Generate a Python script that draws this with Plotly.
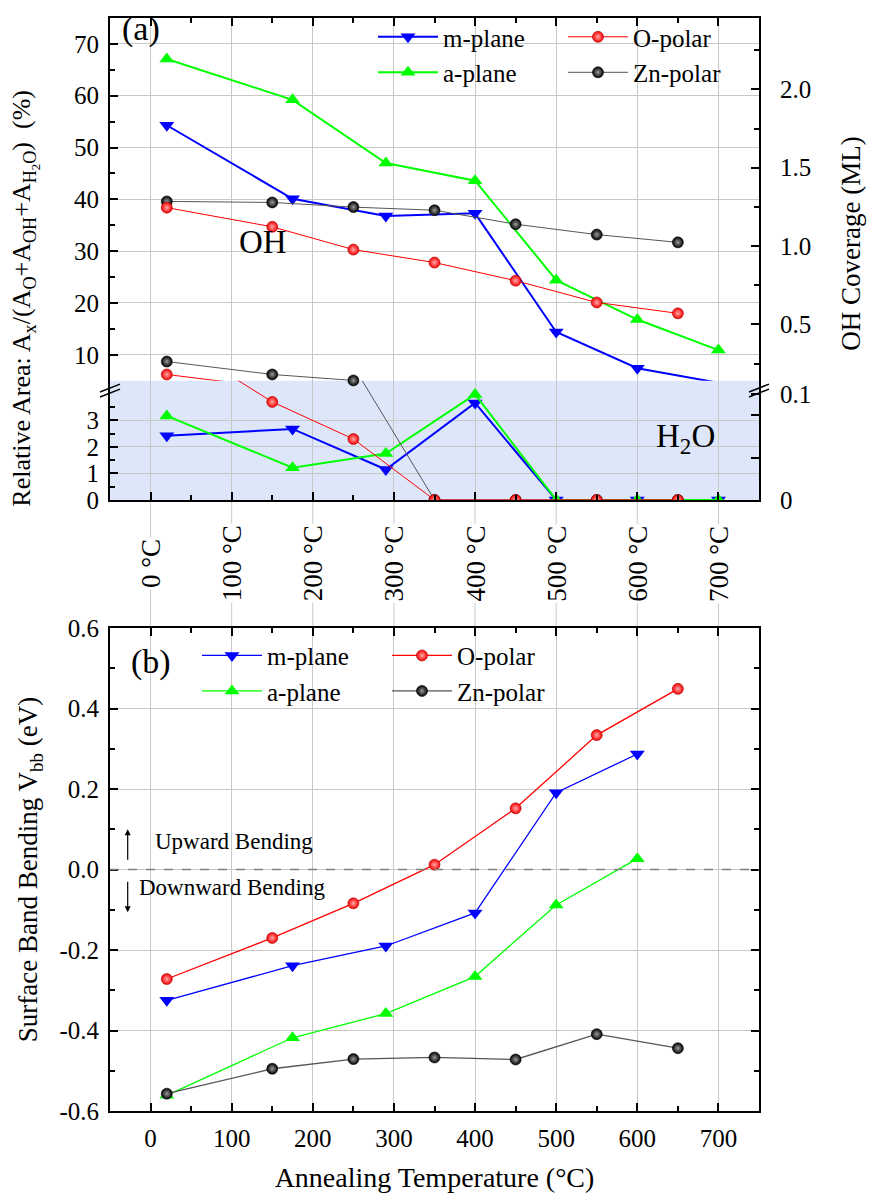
import plotly.graph_objects as go

# ---------------- data ----------------
# panel (a): relative area (%) of the OH and H2O components
temp_plane = [20, 175, 290, 400, 500, 600, 700]      # m-plane, a-plane (°C)
temp_polar = [20, 150, 250, 350, 450, 550, 650]      # O-polar, Zn-polar (°C)

oh_m = [54.3, 40.1, 36.8, 37.3, 14.4, 7.4, 4.6]
oh_a = [67.1, 59.2, 47.0, 43.6, 24.4, 16.8, 10.9]
oh_o = [38.4, 34.7, 30.3, 27.8, 24.3, 20.1, 18.0]
oh_zn = [39.6, 39.4, 38.5, 37.9, 35.2, 33.2, 31.7]

h2o_m = [2.42, 2.68, 1.15, 3.66, 0, 0, 0]
h2o_a = [3.17, 1.22, 1.75, 3.98, 0, 0, 0]
h2o_o = [6.2, 3.7, 2.3, 0, 0, 0, 0]
h2o_zn = [8.7, 6.2, 5.05, 0, 0, 0, 0]

# panel (b): surface band bending (eV)
temp_plane_b = [20, 175, 290, 400, 500, 600]
temp_polar_b = [20, 150, 250, 350, 450, 550, 650]
vbb_m = [-0.325, -0.239, -0.190, -0.108, 0.191, 0.287]
vbb_a = [-0.561, -0.418, -0.358, -0.266, -0.088, 0.027]
vbb_o = [-0.272, -0.170, -0.084, 0.012, 0.152, 0.334, 0.449]
vbb_zn = [-0.557, -0.495, -0.471, -0.467, -0.472, -0.409, -0.444]

# tick labels
temp_ticks = [0, 100, 200, 300, 400, 500, 600, 700]
temp_ticklabels_a = [f"{t} °C" for t in temp_ticks]
temp_ticklabels_b = [f"{t}" for t in temp_ticks]
up_tickvals = [10, 20, 30, 40, 50, 60, 70]
vbb_tickvals = [-0.6, -0.4, -0.2, 0.0, 0.2, 0.4, 0.6]
vbb_ticktext = ["-0.6", "-0.4", "-0.2", "0.0", "0.2", "0.4", "0.6"]
low_tickvals = [0, 1, 2, 3]
cov_up_tickvals = [0.5, 1.0, 1.5, 2.0]
cov_up_ticktext = ["0.5", "1.0", "1.5", "2.0"]
cov_low_tickvals = [0, 0.04, 0.08, 0.1]
cov_low_ticktext = ["0", " ", " ", "0.1"]

# ---------------- layout helpers ----------------
W, H = 869, 1201
ML, MR, MT, MB = 110, 110, 5, 90
PW, PH = W - ML - MR, H - MT - MB


def py(px):
    return (H - MB - px) / PH


def pxx(px):
    return (px - ML) / PW


FONT = "Liberation Serif"
GRID = "#c8c8c8"
BLUE, GREEN, RED, ZN = "#0000ff", "#00ff00", "#ff0000", "#555555"

BREAK_Y = 372
UP_DOM = [py(BREAK_Y), 1.0]
LOW_DOM = [py(492.7), py(BREAK_Y)]
B_DOM = [0.0, py(622.3)]
UP_RANGE = [5, 75]
LOW_RANGE = [0, 4.5]

fig = go.Figure()

series_a = [
    ("m-plane", temp_plane, oh_m, h2o_m, BLUE, "triangle-down", 13, 2.0, "legend"),
    ("a-plane", temp_plane, oh_a, h2o_a, GREEN, "triangle-up", 13, 2.0, "legend"),
    ("Zn-polar", temp_polar, oh_zn, h2o_zn, ZN, "circle", 11, 1.0, "legend2"),
    ("O-polar", temp_polar, oh_o, h2o_o, RED, "circle", 11, 1.0, "legend2"),
]


def marker_style(color, symbol, size):
    if symbol == "circle":
        mc = "#000000" if color == ZN else color
        grad = "#9a9a9a" if color == ZN else "#ffa8a8"
        edge = "#000000" if color == ZN else "#a00000"
        return dict(symbol=symbol, size=size, color=mc,
                    gradient=dict(type="radial", color=grad),
                    line=dict(width=0.6, color=edge))
    return dict(symbol=symbol, size=size, color=color, line=dict(width=0))


legend_rank = {"m-plane": 1, "a-plane": 2, "O-polar": 1, "Zn-polar": 2}

for name, xs, oh, h2o, color, sym, size, lw, leg in series_a:
    mk = marker_style(color, sym, size)
    # OH component (upper axis segment)
    fig.add_trace(go.Scatter(
        x=xs, y=oh, mode="lines+markers", name=name, legend=leg,
        legendrank=legend_rank[name],
        line=dict(color=color, width=lw), marker=mk,
        xaxis="x", yaxis="y", cliponaxis=False, showlegend=True))
    # H2O component: the part of its line lying in the upper segment
    fig.add_trace(go.Scatter(
        x=xs, y=h2o, mode="lines", line=dict(color=color, width=lw),
        xaxis="x", yaxis="y", cliponaxis=True, showlegend=False, hoverinfo="skip"))
    # H2O points that fall in the upper segment
    hx = [x for x, v in zip(xs, h2o) if v > LOW_RANGE[1]]
    hy = [v for v in h2o if v > LOW_RANGE[1]]
    fig.add_trace(go.Scatter(
        x=hx, y=hy, mode="markers", marker=mk,
        xaxis="x", yaxis="y", cliponaxis=False, showlegend=False))
    # H2O component in the lower (broken) segment
    fig.add_trace(go.Scatter(
        x=xs, y=h2o, mode="lines+markers", line=dict(color=color, width=lw),
        marker=mk, xaxis="x2", yaxis="y2", cliponaxis=True, showlegend=False))

# empty traces that carry the right-hand (OH coverage) axes
fig.add_trace(go.Scatter(x=[None], y=[None], xaxis="x", yaxis="y3", showlegend=False))
fig.add_trace(go.Scatter(x=[None], y=[None], xaxis="x2", yaxis="y4", showlegend=False))

series_b = [
    ("m-plane", temp_plane_b, vbb_m, BLUE, "triangle-down", 13, "legend3"),
    ("a-plane", temp_plane_b, vbb_a, GREEN, "triangle-up", 13, "legend3"),
    ("Zn-polar", temp_polar_b, vbb_zn, ZN, "circle", 11, "legend4"),
    ("O-polar", temp_polar_b, vbb_o, RED, "circle", 11, "legend4"),
]
for name, xs, ys, color, sym, size, leg in series_b:
    fig.add_trace(go.Scatter(
        x=xs, y=ys, mode="lines+markers", name=name, legend=leg,
        legendrank=legend_rank[name],
        line=dict(color=color, width=1.3), marker=marker_style(color, sym, size),
        xaxis="x3", yaxis="y5", cliponaxis=False))


def tf(size, fam=FONT):
    return dict(family=fam, size=size, color="black")


common_x = dict(range=[-50, 750], showline=True, linewidth=2,
                linecolor="black", ticks="inside", ticklen=8, tickwidth=1.5,
                tickcolor="black", showgrid=True, gridcolor=GRID, gridwidth=1,
                zeroline=False, domain=[0, 1], tickmode="array", tickvals=temp_ticks,
                minor=dict(tickmode="linear", dtick=50, tick0=0, ticks="inside",
                           ticklen=5, tickwidth=1.5, tickcolor="black", showgrid=False))
common_y = dict(showline=True, linewidth=2, linecolor="black", ticks="inside",
                ticklen=8, tickwidth=1.5, tickcolor="black", zeroline=False,
                tickfont=tf(25))

fig.update_layout(
    width=W, height=H, margin=dict(l=ML, r=MR, t=MT, b=MB),
    paper_bgcolor="white", plot_bgcolor="rgba(0,0,0,0)",
    font=dict(family=FONT, color="black", size=25),
    xaxis=dict(common_x, anchor="y", side="top", showticklabels=False),
    xaxis2=dict(common_x, anchor="y2", side="bottom", showticklabels=False),
    xaxis3=dict(common_x, anchor="y5", side="bottom", mirror="ticks",
                ticktext=temp_ticklabels_b, tickfont=tf(25), ticklabelstandoff=4,
                title=dict(text="Annealing Temperature (°C)", standoff=16,
                           font=tf(28))),
    yaxis=dict(common_y, domain=UP_DOM, anchor="x", range=UP_RANGE,
               tickmode="array", tickvals=up_tickvals,
               showgrid=True, gridcolor=GRID, ticklabelstandoff=4,
               minor=dict(tickmode="linear", dtick=5, tick0=0, ticks="inside",
                          ticklen=5, tickwidth=1.5, tickcolor="black", showgrid=False)),
    yaxis2=dict(common_y, domain=LOW_DOM, anchor="x2", range=LOW_RANGE,
                tickmode="array", tickvals=low_tickvals, showgrid=True,
                gridcolor=GRID, ticklabelstandoff=4,
                minor=dict(tickmode="array", tickvals=[0.5, 1.5, 2.5, 3.5],
                           ticks="inside", ticklen=5, tickwidth=1.5,
                           tickcolor="black", showgrid=False)),
    yaxis3=dict(common_y, overlaying="y", side="right", anchor="x",
                range=[0.1404, 2.456], tickmode="array",
                tickvals=cov_up_tickvals, ticktext=cov_up_ticktext,
                showgrid=False, ticklabelstandoff=14,
                minor=dict(tickmode="linear", dtick=0.25, tick0=0, ticks="inside",
                           ticklen=5, tickwidth=1.5, tickcolor="black", showgrid=False)),
    yaxis4=dict(common_y, overlaying="y2", side="right", anchor="x2",
                range=[0, 0.1126], tickmode="array", tickvals=cov_low_tickvals,
                ticktext=cov_low_ticktext, showgrid=False, ticklabelstandoff=14),
    yaxis5=dict(common_y, domain=B_DOM, anchor="x3", range=[-0.6, 0.6],
                tickmode="array", tickvals=vbb_tickvals, ticktext=vbb_ticktext,
                mirror="ticks", showgrid=True, gridcolor=GRID, ticklabelstandoff=4,
                minor=dict(tickmode="linear", dtick=0.1, tick0=0, ticks="inside",
                           ticklen=5, tickwidth=1.5, tickcolor="black", showgrid=False),
                title=dict(text="Surface Band Bending V<sub>bb</sub> (eV)",
                           standoff=14, font=tf(27))),
)

leg_common = dict(bgcolor="rgba(0,0,0,0)", borderwidth=0, xanchor="left",
                  yanchor="top", itemwidth=60, tracegroupgap=0, orientation="v",
                  font=tf(25))
fig.update_layout(
    legend=dict(leg_common, x=pxx(373), y=py(1)),
    legend2=dict(leg_common, x=pxx(563), y=py(1)),
    legend3=dict(leg_common, x=pxx(197), y=py(627)),
    legend4=dict(leg_common, x=pxx(387), y=py(627)),
)

shapes = []
# light-blue band of the H2O segment
shapes.append(dict(type="rect", xref="x2 domain", yref="y2 domain", x0=0, x1=1,
                   y0=0, y1=1, fillcolor="#dde7f9", line=dict(width=0), layer="below"))
# vertical grid lines running on between the two panels
for t in temp_ticks:
    shapes.append(dict(type="line", xref="x2", yref="paper", x0=t, x1=t,
                       y0=py(492.7), y1=py(622.3), line=dict(color=GRID, width=1),
                       layer="below"))
# dashed zero line of panel (b)
shapes.append(dict(type="line", xref="x3 domain", yref="y5", x0=0, x1=1, y0=0, y1=0,
                   line=dict(color="#808080", width=1.5, dash="dash"), layer="above"))
# axis-break marks
for xc in (ML, ML + PW):
    for dy in (-2.5, 2.5):
        shapes.append(dict(type="line", xref="paper", yref="paper",
                           x0=pxx(xc - 10), x1=pxx(xc + 10),
                           y0=py(386 + dy), y1=py(378 + dy),
                           line=dict(color="black", width=1.5)))

annotations = []


def ann(text, x, y, size, **kw):
    d = dict(text=text, x=pxx(x), y=py(y), xref="paper", yref="paper",
             showarrow=False, font=tf(size),
             xanchor="center", yanchor="middle")
    d.update(kw)
    annotations.append(d)


ann("(a)", 141, 16, 34)
ann("(b)", 151, 657, 34)
ann("OH", 262.5, 232, 33)
ann("H<sub>2</sub>O", 685, 431, 33)
ann("Relative Area: A<sub>x</sub>/(A<sub>O</sub>+A<sub>OH</sub>+A<sub>H<sub>2</sub>O</sub>)  (%)",
    25, 289, 26, textangle=-90)
ann("OH Coverage (ML)", 851, 233.5, 27, textangle=-90)
ann("Upward Bending", 153, 838, 23, xanchor="left")
ann("Downward Bending", 137, 885, 23, xanchor="left")

# rotated temperature labels under panel (a)
for t, lab in zip(temp_ticks, temp_ticklabels_a):
    annotations.append(dict(text=lab, x=t, xref="x2", y=py(557), yref="paper",
                            showarrow=False, textangle=-90, bgcolor="white",
                            font=tf(27), xanchor="center", yanchor="middle"))

# upward / downward bending arrows
annotations.append(dict(text="", x=pxx(127.7), y=py(826), xref="paper", yref="paper",
                        showarrow=True, ax=0, ay=32, arrowhead=2, arrowsize=1,
                        arrowwidth=1.2, arrowcolor="black"))
annotations.append(dict(text="", x=pxx(127.7), y=py(910), xref="paper", yref="paper",
                        showarrow=True, ax=0, ay=-32, arrowhead=2, arrowsize=1,
                        arrowwidth=1.2, arrowcolor="black"))

fig.update_layout(shapes=shapes, annotations=annotations)

fig.write_html("out.html")
